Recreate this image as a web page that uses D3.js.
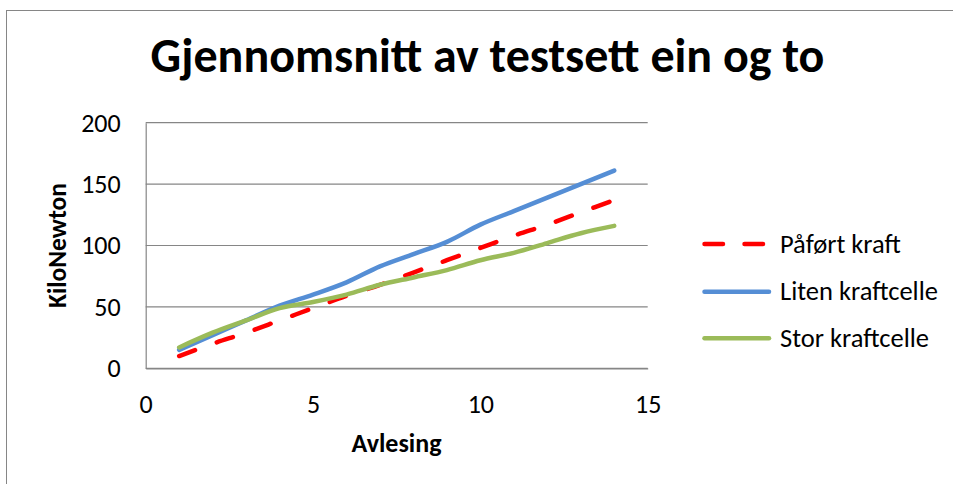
<!DOCTYPE html>
<html>
<head>
<meta charset="utf-8">
<script src="https://cdn.jsdelivr.net/npm/d3@7"></script>
<style>
  html, body { margin: 0; padding: 0; background: #fff; }
  svg { display: block; }
  text { font-family: Carlito, Calibri, Lato, "Open Sans", sans-serif; fill: #000; }
</style>
</head>
<body>
<svg id="chart" width="953" height="484"></svg>
<script>
// Readings (x) and measured force in kN for each series
const readings = [1, 2, 3, 4, 5, 6, 7, 8, 9, 10, 11, 12, 13, 14];
const appliedForce = [10, 20, 29, 39, 49, 59, 68, 78, 88, 98, 108, 117, 127, 137];
const smallCell = [15, 27, 39, 51, 60, 70, 83, 93, 103, 117, 128, 139, 150, 161];
const largeCell = [17, 29, 39, 49, 54, 60, 68, 74, 80, 88, 94, 102, 110, 116];

const xTicks = [0, 5, 10, 15];
const yTicks = [0, 50, 100, 150, 200];

const seriesNames = ["Påført kraft", "Liten kraftcelle", "Stor kraftcelle"];
const seriesColors = ["#FF0000", "#558ED5", "#9BBB59"];
const seriesDash = ["17,23", null, null];
const seriesValues = [appliedForce, smallCell, largeCell];

const titleText = "Gjennomsnitt av testsett ein og to";
const xTitle = "Avlesing";
const yTitle = "KiloNewton";

const svg = d3.select("#chart");
const plot = { left: 145.7, right: 647.7, top: 122.7, bottom: 368.3 };

// Chart frame
svg.append("rect")
  .attr("x", 6.5).attr("y", 10.5)
  .attr("width", 1000).attr("height", 600)
  .attr("fill", "#fff").attr("stroke", "#868686").attr("stroke-width", 1);

const x = d3.scaleLinear().domain([0, 15]).range([plot.left, plot.right]);
const y = d3.scaleLinear().domain([0, 200]).range([plot.bottom, plot.top]);

// Horizontal gridlines
svg.append("g")
  .selectAll("line")
  .data(yTicks)
  .join("line")
  .attr("x1", plot.left).attr("x2", plot.right)
  .attr("y1", d => y(d)).attr("y2", d => y(d))
  .attr("stroke", "#868686").attr("stroke-width", 1.2);

// Axes (lines only, no tick marks)
const yAxis = d3.axisLeft(y).tickValues(yTicks).tickSize(0).tickPadding(25);
const gy = svg.append("g").attr("transform", `translate(${plot.left},0)`).call(yAxis);
gy.select(".domain").attr("stroke", "#868686").attr("stroke-width", 1.2);
gy.selectAll("text").attr("font-size", 26).attr("font-family", null);

const xAxis = d3.axisBottom(x).tickValues(xTicks).tickSize(0).tickPadding(26);
const gx = svg.append("g").attr("transform", `translate(0,${plot.bottom})`).call(xAxis);
gx.select(".domain").attr("stroke", "#868686").attr("stroke-width", 1.2);
gx.selectAll("text").attr("font-size", 26).attr("font-family", null);

// Series lines (smoothed)
const line = d3.line()
  .x((d, i) => x(readings[i]))
  .y(d => y(d))
  .curve(d3.curveCatmullRom.alpha(0.5));

seriesValues.forEach((vals, k) => {
  svg.append("path")
    .datum(vals)
    .attr("d", line)
    .attr("fill", "none")
    .attr("stroke", seriesColors[k])
    .attr("stroke-width", 4.5)
    .attr("stroke-linecap", "round")
    .attr("stroke-linejoin", "round")
    .attr("stroke-dasharray", seriesDash[k]);
});

// Title
svg.append("text")
  .attr("x", 487.5).attr("y", 72)
  .attr("text-anchor", "middle")
  .attr("font-size", 48).attr("font-weight", "bold")
  .text(titleText);

// Axis titles
svg.append("text")
  .attr("x", 396.5).attr("y", 452)
  .attr("text-anchor", "middle")
  .attr("font-size", 26).attr("font-weight", "bold")
  .text(xTitle);

svg.append("text")
  .attr("transform", "translate(66,245.5) rotate(-90)")
  .attr("text-anchor", "middle")
  .attr("font-size", 25.5).attr("font-weight", "bold")
  .text(yTitle);

// Legend
const legendRows = [244, 291.7, 338.3];
const legend = svg.append("g");
seriesNames.forEach((name, k) => {
  const ly = legendRows[k];
  legend.append("line")
    .attr("x1", 704.5).attr("x2", 769)
    .attr("y1", ly).attr("y2", ly)
    .attr("stroke", seriesColors[k])
    .attr("stroke-width", 4.5)
    .attr("stroke-linecap", "round")
    .attr("stroke-dasharray", k === 0 ? "18.5,21.5" : null);
  legend.append("text")
    .attr("x", 780).attr("y", ly + 8.5)
    .attr("font-size", 26.5)
    .text(name);
});
</script>
</body>
</html>
